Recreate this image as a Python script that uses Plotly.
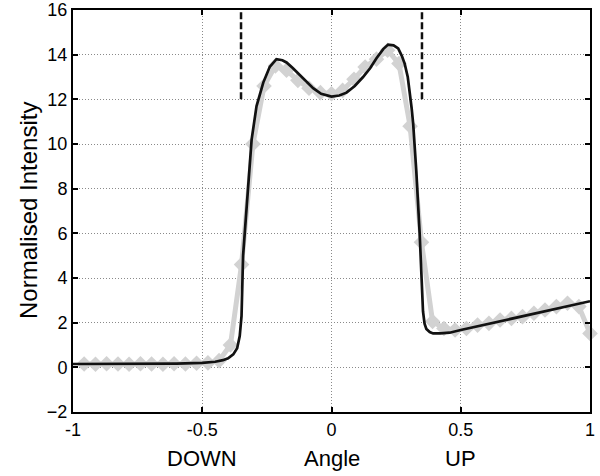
import plotly.graph_objects as go

# ---- data ----
meas_x = [-0.957, -0.913, -0.870, -0.826, -0.783, -0.739, -0.696, -0.652, -0.609, -0.565,
          -0.522, -0.478, -0.435, -0.391, -0.348, -0.304, -0.261, -0.217, -0.174, -0.130,
          -0.087, -0.043, 0.000, 0.043, 0.087, 0.130, 0.174, 0.217, 0.261, 0.304,
          0.348, 0.391, 0.435, 0.478, 0.522, 0.565, 0.609, 0.652, 0.696, 0.739,
          0.783, 0.826, 0.870, 0.913, 0.957, 1.000]
meas_y = [0.15, 0.14, 0.16, 0.15, 0.14, 0.16, 0.15, 0.14, 0.16, 0.15,
          0.18, 0.20, 0.30, 1.00, 4.60, 10.00, 12.60, 13.50, 13.30, 12.85,
          12.50, 12.30, 12.25, 12.40, 12.90, 13.45, 13.80, 14.20, 13.60, 10.80,
          5.60, 2.05, 1.74, 1.67, 1.74, 1.89, 1.97, 2.12, 2.19, 2.27,
          2.42, 2.57, 2.72, 2.87, 2.72, 1.52]

fit_x = [-1.0, -0.8, -0.6, -0.5, -0.45, -0.42, -0.40, -0.38, -0.365, -0.355,
         -0.348, -0.342, -0.335, -0.322, -0.309, -0.29, -0.264, -0.239, -0.213, -0.19,
         -0.174, -0.15, -0.123, -0.10, -0.071, -0.04, 0.0, 0.03, 0.058, 0.09,
         0.122, 0.15, 0.174, 0.20, 0.219, 0.24, 0.258, 0.272, 0.283, 0.295,
         0.303, 0.31, 0.316, 0.328, 0.341, 0.348, 0.354, 0.36, 0.367, 0.38,
         0.393, 0.42, 0.457, 0.5, 0.6, 0.7, 0.8, 0.9, 1.0]
fit_y = [0.15, 0.15, 0.17, 0.20, 0.25, 0.32, 0.40, 0.58, 0.85, 1.40,
         2.30, 5.00, 6.20, 8.20, 10.20, 11.70, 12.75, 13.45, 13.80, 13.75,
         13.65, 13.40, 13.10, 12.80, 12.50, 12.25, 12.12, 12.17, 12.30, 12.60,
         13.00, 13.40, 13.84, 14.25, 14.45, 14.42, 14.28, 13.95, 13.60, 13.00,
         12.30, 11.60, 10.90, 8.80, 6.00, 4.10, 2.50, 1.95, 1.72, 1.58,
         1.52, 1.52, 1.55, 1.67, 1.93, 2.19, 2.44, 2.70, 2.96]

marker_x = [-0.35, 0.35]
marker_y = [12, 16]

x_ticks = [-1, -0.5, 0, 0.5, 1]
x_ticktext = ["-1", "-0.5", "0", "0.5", "1"]
y_ticks = [-2, 0, 2, 4, 6, 8, 10, 12, 14, 16]
x_labels = ["DOWN", "Angle", "UP"]
x_label_pos = [-0.5, 0, 0.5]
y_title = "Normalised Intensity"

FONT = "Liberation Sans, Arial, Helvetica, sans-serif"

fig = go.Figure()
fig.add_trace(go.Scatter(
    x=meas_x, y=meas_y, mode="lines+markers",
    line=dict(color="#d2d2d2", width=5),
    marker=dict(symbol="diamond", size=12, color="#d2d2d2"),
    cliponaxis=False, hoverinfo="skip"))
fig.add_trace(go.Scatter(
    x=fit_x, y=fit_y, mode="lines",
    line=dict(color="#111111", width=2.7), hoverinfo="skip"))
for mx in marker_x:
    fig.add_trace(go.Scatter(
        x=[mx, mx], y=marker_y, mode="lines",
        line=dict(color="#111111", width=2.5, dash="7px,3px"), hoverinfo="skip"))

axis_common = dict(
    ticks="inside", ticklen=5, tickwidth=1.5, tickcolor="black",
    showline=True, linecolor="black", linewidth=2, mirror="ticks",
    showgrid=True, gridcolor="#8a8a8a", gridwidth=1, griddash="1px,2px",
    zeroline=False, automargin=False,
    tickfont=dict(family=FONT, size=18, color="black"),
)
fig.update_xaxes(range=[-1, 1], tickvals=x_ticks, ticktext=x_ticktext, **axis_common)
fig.update_yaxes(range=[-2, 16], tickvals=y_ticks, **axis_common)

annotations = []
for lab, pos in zip(x_labels, x_label_pos):
    annotations.append(dict(x=pos, xref="x", y=-0.115, yref="paper", text=lab,
                            showarrow=False, xanchor="center", yanchor="middle",
                            font=dict(family=FONT, size=22, color="black")))
annotations.append(dict(x=-0.087, xref="paper", y=0.5, yref="paper", text=y_title,
                        textangle=-90, showarrow=False, xanchor="center", yanchor="middle",
                        font=dict(family=FONT, size=24, color="black")))

fig.update_layout(
    width=600, height=476,
    margin=dict(l=73, r=10, t=10, b=64, autoexpand=False),
    plot_bgcolor="white", paper_bgcolor="white",
    showlegend=False, annotations=annotations,
    font=dict(family=FONT, color="black"),
)

fig.write_html("out.html")
